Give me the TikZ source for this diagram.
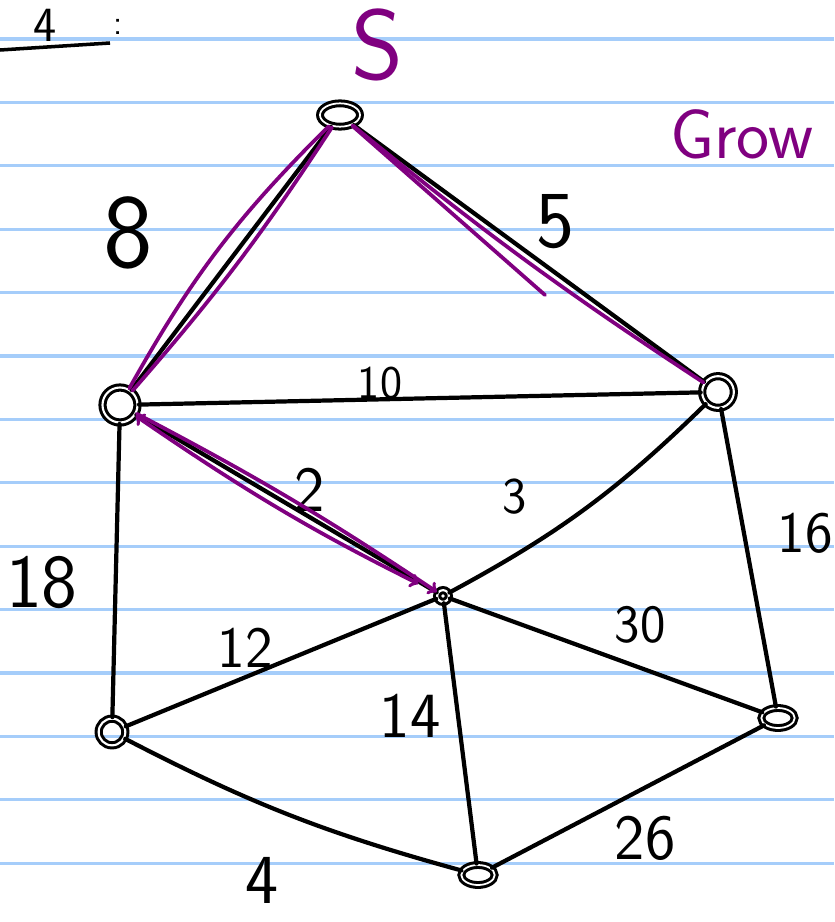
\documentclass[tikz,border=0pt]{standalone}
\usepackage{fontspec}
\usepackage{tikz}
\usetikzlibrary{shapes,arrows,positioning,calc}
\definecolor{penpurple}{RGB}{128,0,128}
\definecolor{rulecolor}{RGB}{165,205,250}

\tikzset{
  vertex/.style={circle, draw, line width=2.6pt, double, double distance=1.8pt, inner sep=0pt, minimum size=#1},
  flatvertex/.style={ellipse, draw, line width=2.6pt, double, double distance=1.5pt, inner sep=0pt},
  graphedge/.style={line width=3.6pt, black, line cap=round},
  trace/.style={penpurple, line width=3.2pt, line cap=round},
  wlabel/.style={font=\sffamily\fontsize{#1}{#1}\selectfont, inner sep=0pt},
  ruleline/.style={rulecolor, line width=2.6pt}
}

\begin{document}
\begin{tikzpicture}[x=0.03cm, y=-0.03cm, >=to]

% ================= PAPER =================
\fill[white] (0,0) rectangle (834,922);
\useasboundingbox (0,0) rectangle (834,922);
\clip (0,0) rectangle (834,922);
\foreach \k in {0,...,13} {
  \draw[ruleline] (0,{39+63.4*\k}) -- (834,{39+63.4*\k});
}

% heading scraps
\node[wlabel=42pt, anchor=south] (hd) at (45,42) {4};
\draw[line width=3pt] (0,50) -- (110,43);
\node[wlabel=30pt, anchor=base] (hdcolon) at (118,34) {:};
\node[wlabel=85pt, penpurple] (src) at (377,45) {S};
\node[wlabel=60pt, penpurple, anchor=base west] (grow) at (670,158) {Grow};

% ================= VERTICES =================
\node[flatvertex, minimum width=1.2cm, minimum height=0.7cm] (S) at (340,115) {};
\node[vertex=1.05cm] (A) at (120,405) {};
\node[vertex=0.95cm] (B) at (718,392) {};
\node[vertex=0.35cm] (C) at (443,596) {};
\node[vertex=0.8cm] (D) at (112,732) {};
\node[flatvertex, minimum width=1.0cm, minimum height=0.6cm] (E) at (778,718) {};
\node[flatvertex, minimum width=1.0cm, minimum height=0.6cm] (F) at (478,875) {};

% ================= EDGES =================
\draw[graphedge] (S) -- (A);
\draw[graphedge] (S) -- (B);
\draw[graphedge] (A) -- (B);
\draw[graphedge] (A) -- (C);
\draw[graphedge] (B) to[bend left=8] (C);
\draw[graphedge] (A) -- (D);
\draw[graphedge] (B) -- (E);
\draw[graphedge] (C) -- (D);
\draw[graphedge] (C) -- (E);
\draw[graphedge] (C) -- (F);
\draw[graphedge] (D) to[bend right=6] (F);
\draw[graphedge] (E) -- (F);

% weights
\node[wlabel=90pt] (w8) at (128,233) {8};
\node[wlabel=69pt] (w5) at (555,222) {5};
\node[wlabel=40pt] (w10) at (380,383) {10};
\node[wlabel=55pt] (w2) at (310,490) {2};
\node[wlabel=44pt] (w3) at (515,497) {3};
\node[wlabel=65pt] (w18) at (42,583) {18};
\node[wlabel=50pt] (w16) at (805,533) {16};
\node[wlabel=50pt] (w12) at (245,648) {12};
\node[wlabel=46pt] (w30) at (640,625) {30};
\node[wlabel=55pt] (w14) at (410,716) {14};
\node[wlabel=60pt] (w4) at (262,880) {4};
\node[wlabel=55pt] (w26) at (645,838) {26};

% ================= GROWN TREE =================
\draw[trace] (S) to[bend right=8] (A);
\draw[trace] (S) to[bend left=4] (A);
\coordinate (sbend) at (545,295);
\draw[trace] (S) to[bend right=3] (B);
\draw[trace] (S) -- (sbend);
\draw[trace, <->, shorten >=0.6cm] (A) to[bend right=4] (C);
\draw[trace, ->] (A) to[bend left=3] (C);

\end{tikzpicture}
\end{document}
